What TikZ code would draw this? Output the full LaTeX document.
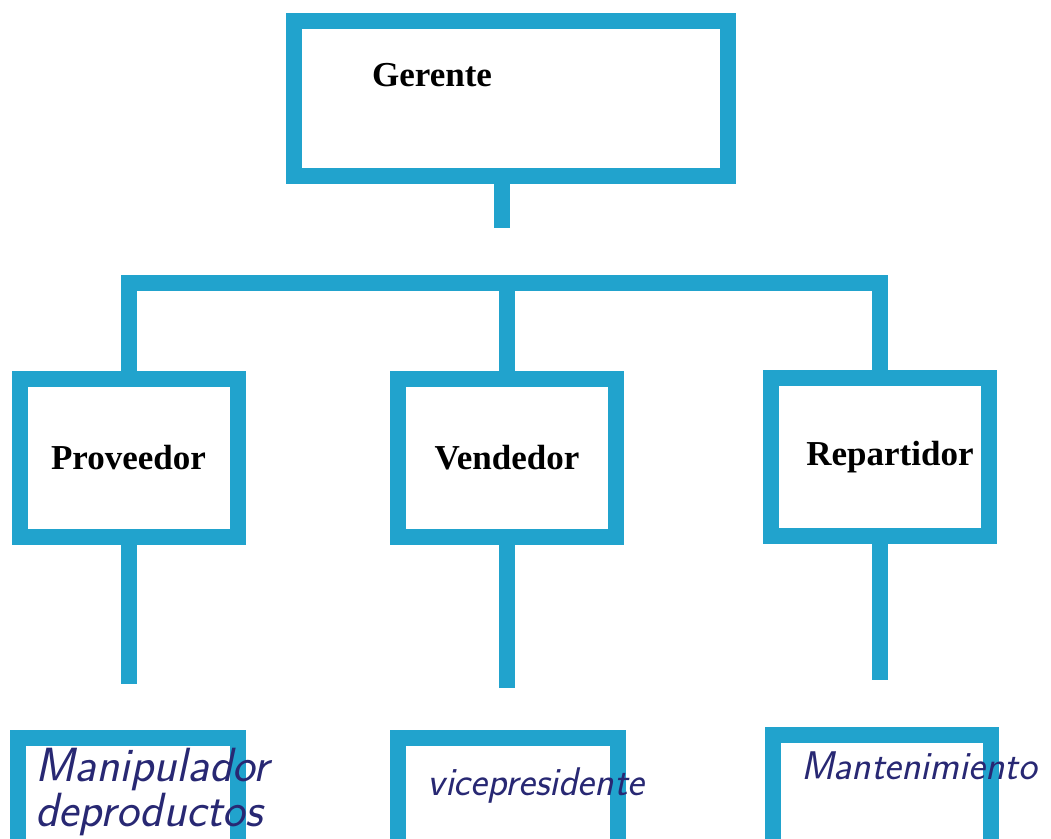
\documentclass[tikz,border=0pt]{standalone}
\usepackage{fontspec}
\setmainfont{Liberation Serif}
\definecolor{orgblue}{RGB}{33,163,205}
\definecolor{inkblue}{RGB}{40,40,115}
\begin{document}
\begin{tikzpicture}[
                            x=0.5pt, y=-0.5pt,
                            box/.style={rectangle, draw=orgblue, line width=8pt, inner sep=0pt, minimum width=109pt, minimum height=79pt, font=\fontsize{17.5}{20}\selectfont\bfseries},
                            link/.style={draw=orgblue, line width=8pt},
                            hand/.style={text=inkblue, inner sep=0pt, align=left}
                        ]
                        \useasboundingbox (0,0) rectangle (1051,839);
                        \clip (0,0) rectangle (1051,839);
                        % Blocks
                        \node [box, minimum width=217pt, minimum height=77.75pt] (ger) at (510.5,98.75) {};
                        \node [font=\fontsize{17.5}{20}\selectfont\bfseries] (gertxt) at (432,75) {Gerente};
                        \node [box] (prov) at (128.5,458) {Proveedor};
                        \node [box] (vend) at (507,458) {Vendedor};
                        \node [box] (rep) at (880,457) {\hspace*{10pt}Repartidor};
                        \node [box, minimum width=110pt] (provsub) at (127.5,817) {};
                        \node [box, minimum width=110pt] (vendsub) at (507.5,817) {};
                        \node [box, minimum width=109pt] (repsub) at (881.5,814) {};

                        % Free ends
                        \coordinate (gerstub) at (502,228);
                        \coordinate (bar) at (505,283);
                        \coordinate (provstub) at (128,684);
                        \coordinate (vendstub) at (505,688);
                        \coordinate (repstub) at (881,680);

                        % Connections
                        \draw [link] (gerstub |- ger.south) -- (gerstub);
                        \draw [link] (prov.north) |- (bar) -| (rep.north);
                        \draw [link] (vend.north) -- (vend.north |- bar);
                        \draw [link] (prov.south) -- (prov.south |- provstub);
                        \draw [link] (vend.south) -- (vend.south |- vendstub);
                        \draw [link] (rep.south) -- (rep.south |- repstub);

                        % Handwritten notes
                        \node [hand, anchor=west, font=\fontsize{24}{20}\selectfont\sffamily\slshape] (provtxt) at (35,792) {Manipulador\\deproductos};
                        \node [hand, font=\fontsize{20}{20}\selectfont\sffamily\slshape] (vendtxt) at (536,786) {vicepresidente};
                        \node [hand, font=\fontsize{20}{20}\selectfont\sffamily\slshape] (reptxt) at (919,766) {Mantenimiento};
                    \end{tikzpicture}
\end{document}
